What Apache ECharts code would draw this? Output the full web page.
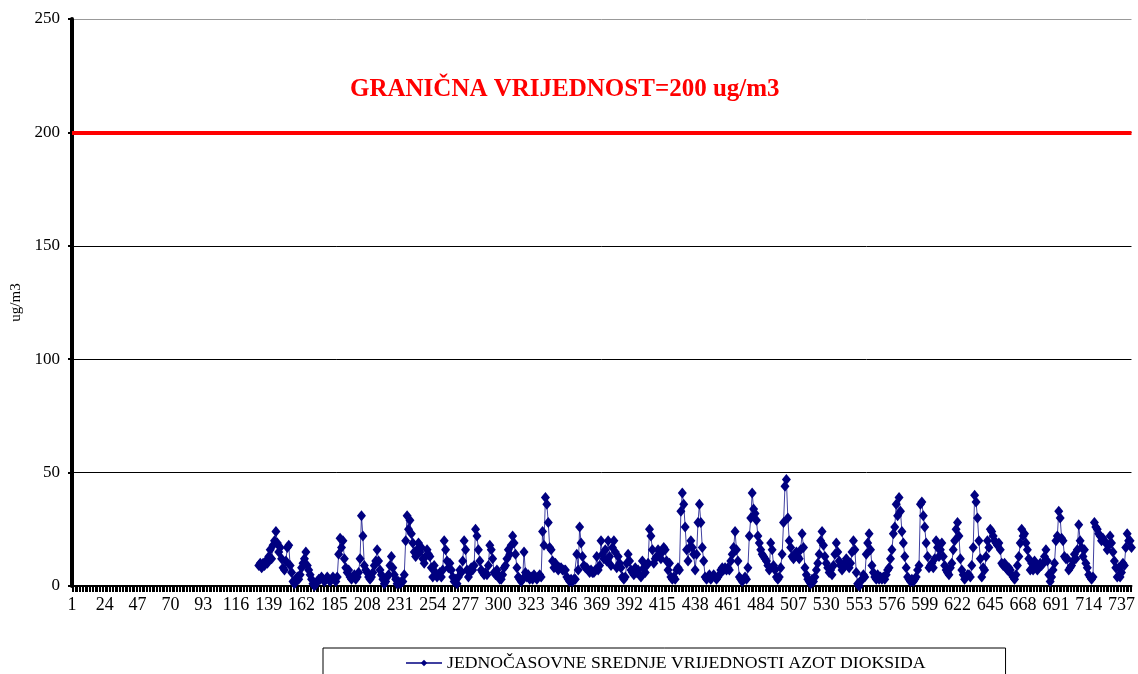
<!DOCTYPE html>
<html>
<head>
<meta charset="utf-8">
<script src="https://cdn.jsdelivr.net/npm/echarts@6/dist/echarts.min.js"></script>
<style>
  html, body { margin: 0; padding: 0; background: #fff; }
  #chart { width: 1138px; height: 674px; }
</style>
</head>
<body>
<div id="chart"></div>
<script>
// hours of the month (31 days x 24 h)
var HOURS = 744;
var FIRST_HOUR = 132; // first hour with a measurement
var seriesName = 'JEDNOČASOVNE SREDNJE VRIJEDNOSTI AZOT DIOKSIDA';
var limitValue = 200;
var limitText = 'GRANIČNA VRIJEDNOST=200 ug/m3';
var yTicks = [0, 50, 100, 150, 200, 250];

// hourly NO2 values, hour 132 .. 744
var no2 = [
  9,10,8,10,9,11,10,13,16,12, 18,20,24,19,15,17,12,8,7,11,
  17,18,9,6,2,1,3,4,3,5, 8,10,12,15,9,7,5,3,1,0,
  1,2,3,3,4,3,2,3,4,3, 2,3,4,3,2,4,14,21,
  17,20,12,8,6,7,4,3,4,5, 3,4,6,12,31,22,9,7,6,4,
  3,4,6,9,11,16,11,7,5,3, 1,2,4,5,9,13,8,5,3,1,
  2,1,2,2,5,20,31,25,29,23, 19,15,13,16,19,15,17,12,10,13,
  16,14,13,8,4,
  9,6,4,5,6,4,7,20,16,11, 8,10,7,4,2,3,1,4,7,6,
  11,20,16,7,4,6,8,7,9,25, 22,16,11,7,6,5,6,5,9,18,
  16,12,6,5,7,5,3,3,5,8, 9,12,16,14,18,22,19,14,8,4,
  3,2,3,
  15,6,4,5,3,4,3,5,4,3, 4,5,4,24,18,39,36,28,17,16,
  11,8,10,8,7,8,8,7,7,7, 4,3,2,3,2,3,3,14,7,26,
  19,13,9,8,8,7,6,7,6,6, 7,13,7,9,20,14,12,16,11,20,
  13,9,
  17,20,15,8,13,10,8,4,3,4, 10,14,11,7,6,5,8,6,7,5,
  4,11,8,6,9,10,25,22,16,10, 12,13,16,14,12,15,17,16,11,7,
  10,4,3,4,3,7,8,7,33,41, 36,26,16,11,17,20,17,14,7,14,
  28,36,28,
  17,11,4,3,4,5,3,4,5,4, 3,4,5,7,8,7,8,7,8,7,
  11,14,17,24,16,11,4,3,2,3, 4,3,8,22,30,41,34,32,29,22,
  19,16,14,13,12,11,9,7,19,16, 9,7,4,3,4,8,14,28,44,47,
  30,20,
  17,13,12,14,15,13,12,16,23,17, 8,5,3,2,1,3,2,4,7,10,
  14,20,24,18,13,10,8,6,7,5, 9,14,19,15,11,9,7,8,10,12,
  9,8,10,15,20,16,6,1,0,2, 3,5,4,14,19,23,16,9,6,4,
  3,5,
  3,4,3,4,3,5,7,8,12,16, 23,26,36,31,39,33,24,19,13,8,
  4,3,2,3,2,3,4,7,9,36, 37,31,26,19,13,8,9,10,8,12,
  20,17,13,16,19,13,9,7,6,5, 8,10,16,20,25,28,22,12,7,5,
  3,4,5,
  5,4,9,17,40,37,30,20,12,4, 8,7,13,20,17,25,24,22,20,19,
  18,19,16,10,9,10,8,7,8,7, 5,4,3,5,9,13,19,25,22,23,
  19,16,12,7,10,7,11,9,7,8, 10,9,10,13,16,11,5,2,4,7,
  10,20,
  22,33,30,21,20,13,12,12,7,8, 9,11,14,12,16,27,20,17,13,16,
  10,8,5,4,3,4,28,26,25,23, 22,20,21,20,19,16,18,22,19,15,
  11,8,4,8,4,6,10,9,17,23, 20,20,17
];

var hours = [];
for (var h = 1; h <= HOURS; h++) {
  hours.push(String(h));
}

var serif = 'Liberation Serif, Times New Roman, serif';

var chart = echarts.init(document.getElementById('chart'));
chart.setOption({
  animation: false,
  title: {
    text: limitText,
    left: 345,
    top: 72,
    textStyle: { color: '#ff0000', fontFamily: serif, fontWeight: 'bold', fontSize: 25 }
  },
  legend: {
    data: [seriesName],
    left: 323,
    top: 648,
    borderColor: '#000',
    borderWidth: 1,
    padding: [6, 80, 20, 82],
    itemWidth: 36,
    itemHeight: 8,
    itemGap: 6,
    textStyle: { fontFamily: serif, fontSize: 17.7, color: '#000' }
  },
  grid: { left: 72, right: 6, top: 19, bottom: 88 },
  xAxis: {
    type: 'category',
    data: hours,
    boundaryGap: false,
    axisLine: { lineStyle: { color: '#000', width: 2 } },
    axisTick: { interval: 0, length: 6, lineStyle: { color: '#000' } },
    axisLabel: { interval: 22, color: '#000', fontFamily: serif, fontSize: 18, margin: 10 },
    splitLine: { show: false }
  },
  yAxis: {
    type: 'value',
    min: yTicks[0],
    max: yTicks[yTicks.length - 1],
    interval: 50,
    name: 'ug/m3',
    nameLocation: 'middle',
    nameGap: 45,
    nameTextStyle: { fontFamily: serif, fontSize: 15, color: '#000' },
    axisLine: { show: true, lineStyle: { color: '#000', width: 4 } },
    axisTick: { show: true, length: 4, lineStyle: { color: '#000', width: 2 } },
    axisLabel: { color: '#000', fontFamily: serif, fontSize: 17, margin: 12 },
    splitLine: { lineStyle: { color: ['#000', '#000', '#000', '#000', '#000', '#999'], width: 1 } }
  },
  series: [{
    name: seriesName,
    type: 'line',
    data: no2.map(function (v, i) { return [FIRST_HOUR - 1 + i, v]; }),
    symbol: 'diamond',
    symbolSize: [9, 11],
    showAllSymbol: true,
    color: '#000080',
    lineStyle: { color: '#000080', width: 1, opacity: 0.75 },
    itemStyle: { color: '#000080' },
    markLine: {
      silent: true,
      symbol: 'none',
      label: { show: false },
      lineStyle: { color: '#ff0000', width: 4, type: 'solid' },
      data: [{ yAxis: limitValue }]
    }
  }]
});
</script>
</body>
</html>
